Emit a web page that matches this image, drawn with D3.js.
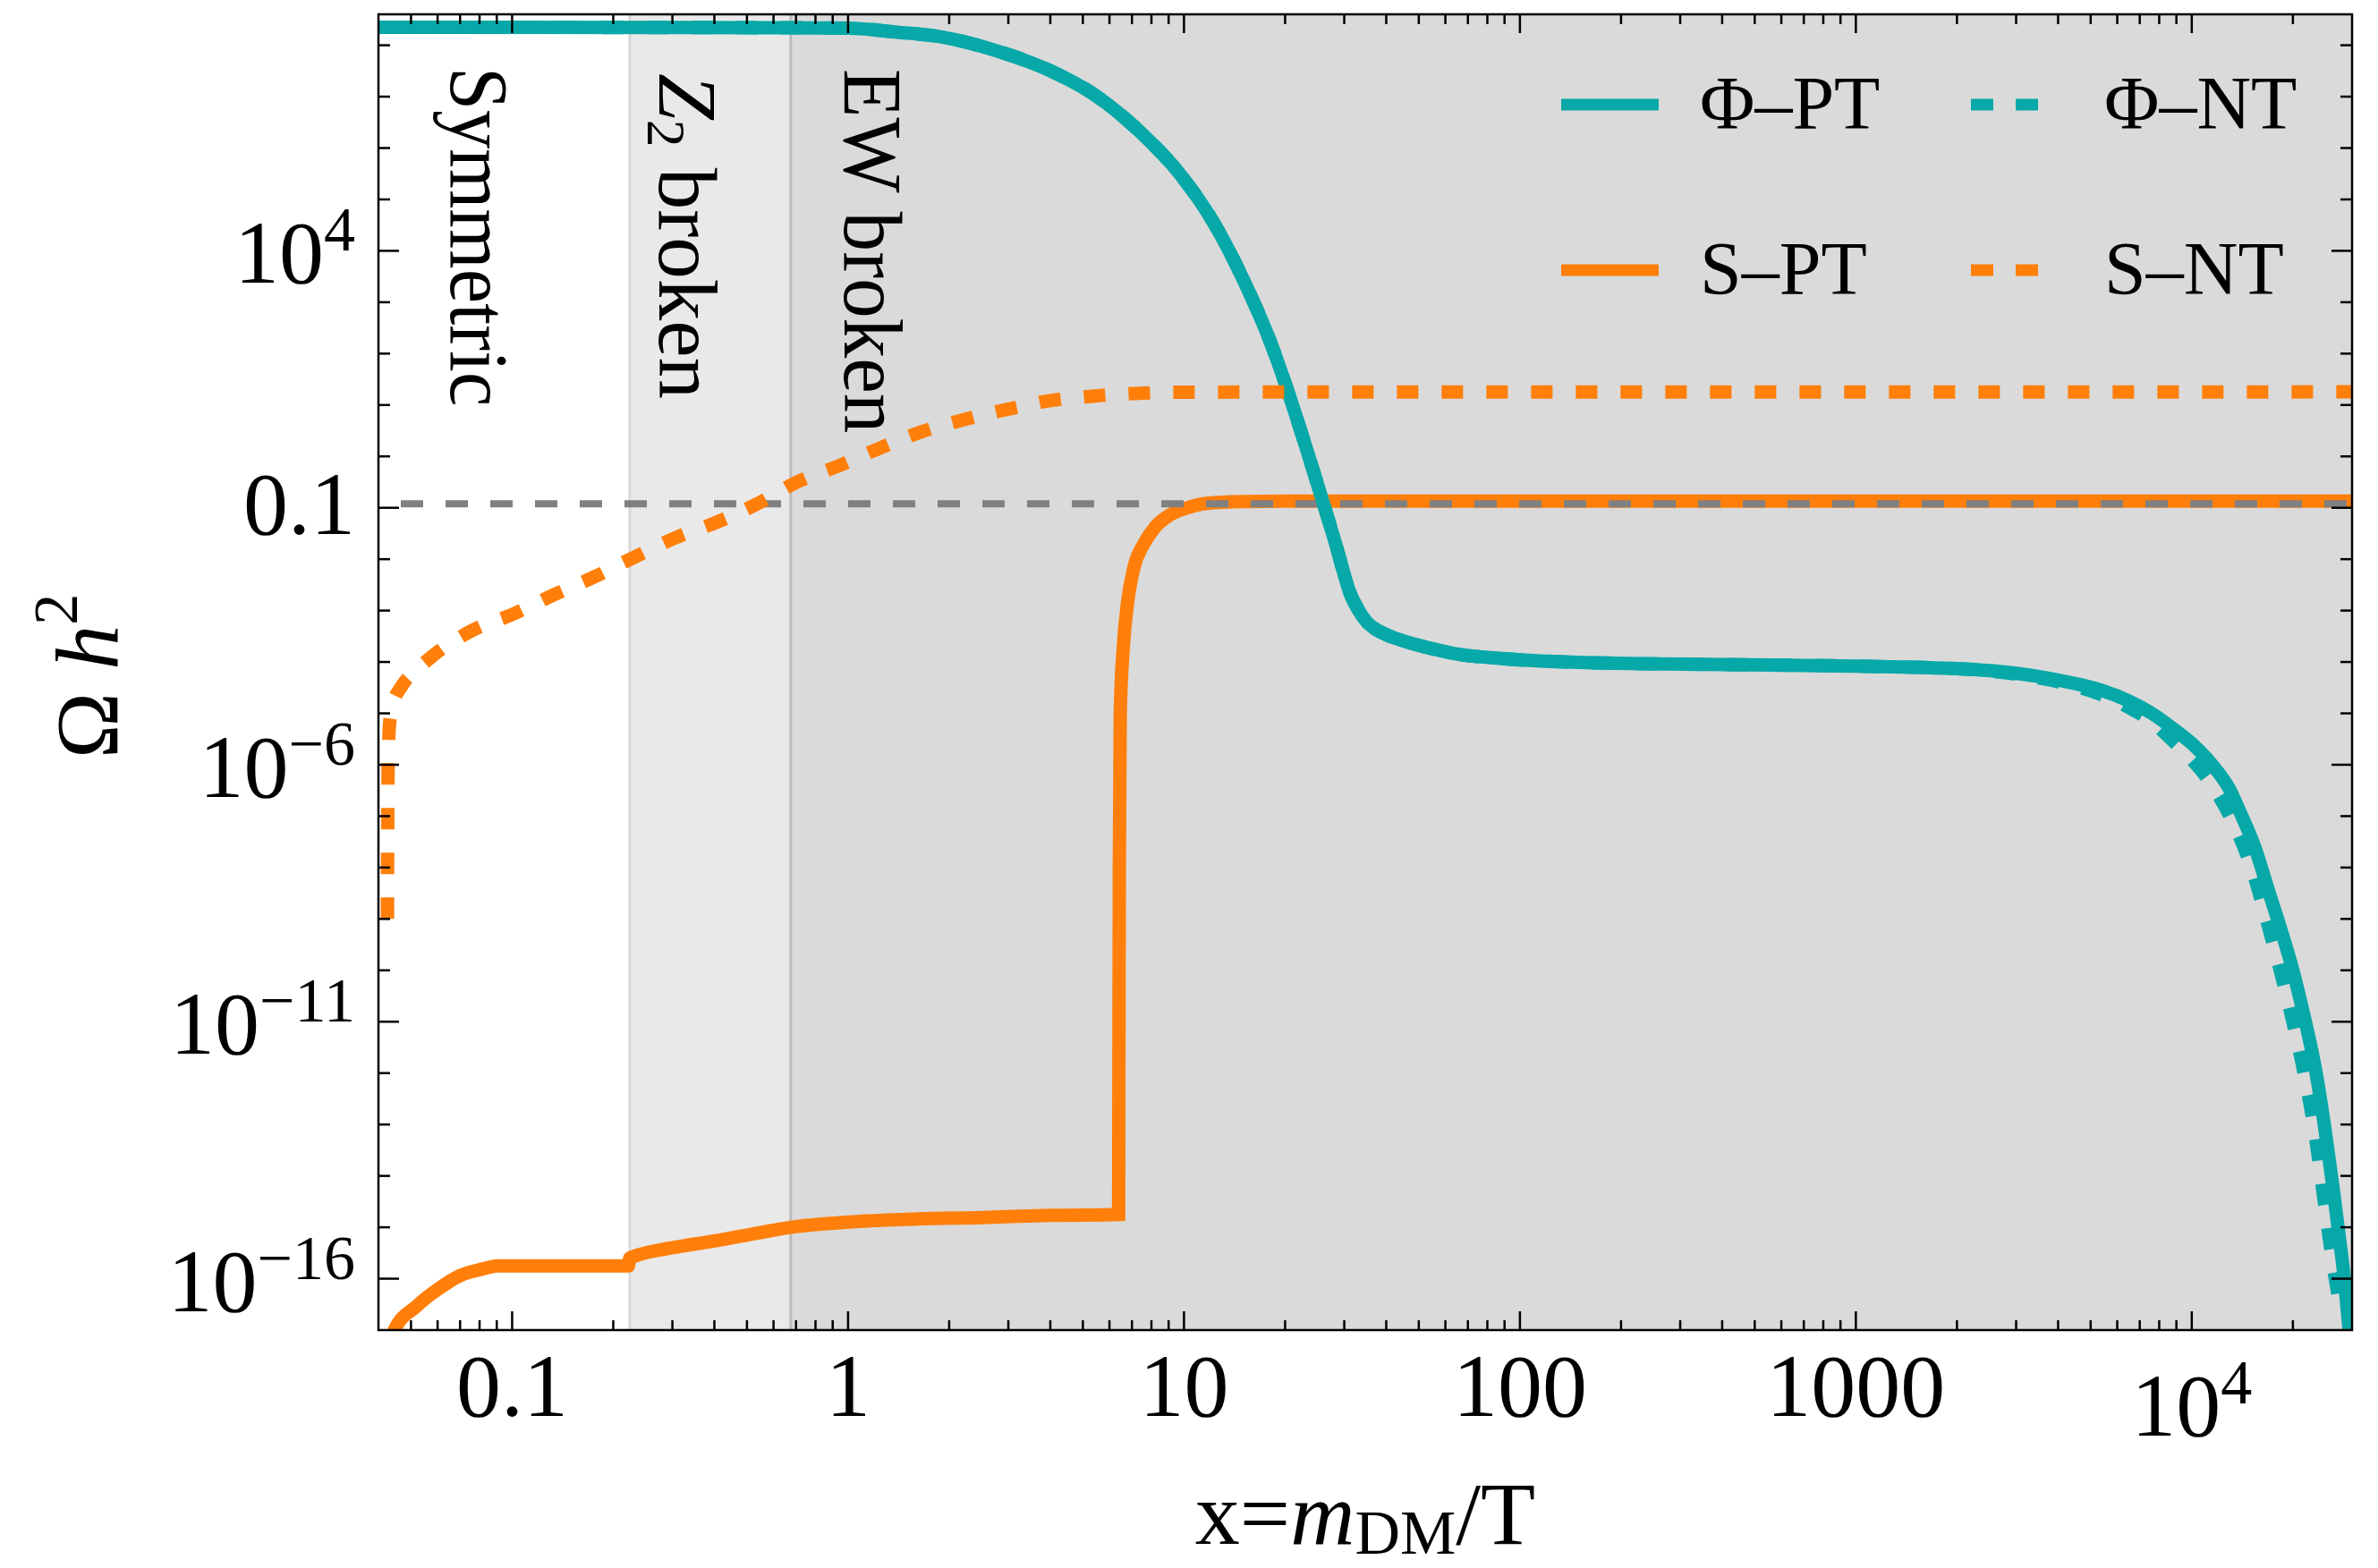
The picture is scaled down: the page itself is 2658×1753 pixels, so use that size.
<!DOCTYPE html>
<html>
<head>
<meta charset="utf-8">
<script src="https://cdn.jsdelivr.net/npm/d3@7"></script>
<style>
  html, body { margin: 0; padding: 0; background: #ffffff; }
  svg { display: block; }
  text { font-family: "Liberation Serif", "Times New Roman", Times, serif; fill: #000; }
</style>
</head>
<body>
<svg id="chart" width="2658" height="1753"></svg>
<script>
// ---- Relic abundance Omega h^2 versus x = m_DM / T ----

// Phi, phase-transition history (solid teal)
const phiPT = [
  [0.04, 2.24e8], [0.55, 2.2e8], [1.0, 2.14e8], [1.4, 1.8e8], [1.9, 1.45e8],
  [2.77, 7.8e7], [4.04, 3.1e7], [5.52, 1.0e7], [7.32, 2.2e6], [9.69, 3.2e5],
  [12.4, 3.1e4], [15.0, 2.8e3], [18.1, 166], [20.5, 16.6], [23.2, 1.35],
  [25.9, 0.132], [28.5, 0.0166], [30.0, 5.0e-3], [31.2, 2.2e-3], [33.0, 1.05e-3],
  [35.0, 6.0e-4], [37.5, 4.2e-4], [40, 3.4e-4], [44, 2.7e-4], [50, 2.1e-4],
  [55, 1.8e-4], [66, 1.4e-4], [88, 1.17e-4], [180, 9.5e-5], [400, 8.9e-5],
  [1000, 8.3e-5], [2000, 7.4e-5], [3000, 6.0e-5], [3630, 5.0e-5], [4500, 3.8e-5],
  [5400, 2.8e-5], [6500, 1.74e-5], [7600, 1.0e-5], [9000, 4.5e-6], [10200, 2.3e-6],
  [11500, 1.0e-6], [12900, 3.5e-7], [14000, 1.1e-7], [15400, 2.5e-8], [17000, 3.2e-9],
  [18000, 1.0e-9], [20000, 1.0e-10], [21600, 1.26e-11], [23300, 1.26e-12], [24800, 1.0e-13],
  [26300, 6.3e-15], [27500, 6.3e-16], [28560, 8e-17], [29400, 1e-17]
];

// Phi, no-transition history (dotted teal)
const phiNT = [
  [0.04, 2.24e8], [0.55, 2.2e8], [1.0, 2.14e8], [1.4, 1.8e8], [1.9, 1.45e8],
  [2.77, 7.8e7], [4.04, 3.1e7], [5.52, 1.0e7], [7.32, 2.2e6], [9.69, 3.2e5],
  [12.4, 3.1e4], [15.0, 2.8e3], [18.1, 166], [20.5, 16.6], [23.2, 1.35],
  [25.9, 0.132], [28.5, 0.0166], [30.0, 5.0e-3], [31.2, 2.2e-3], [33.0, 1.05e-3],
  [35.0, 6.0e-4], [37.5, 4.2e-4], [40, 3.4e-4], [44, 2.7e-4], [50, 2.1e-4],
  [55, 1.8e-4], [66, 1.4e-4], [88, 1.17e-4], [180, 9.5e-5], [400, 8.9e-5],
  [1000, 8.3e-5], [2000, 7.4e-5], [3000, 5.8e-5], [3630, 4.7e-5], [4500, 3.4e-5],
  [5400, 2.3e-5], [6500, 1.3e-5], [7600, 7.0e-6], [9000, 2.5e-6], [10200, 1.1e-6],
  [11500, 4.0e-7], [12900, 1.1e-7], [14000, 3.5e-8], [15400, 6.3e-9], [17000, 6.3e-10],
  [18000, 1.6e-10], [20000, 1.0e-11], [21600, 1.0e-12], [23300, 6.3e-14], [24800, 3.2e-15],
  [26300, 2.0e-16], [27600, 3e-17]
];

// S, phase-transition history (solid orange)
const sPT = [
  [0.0442, 3e-18], [0.0446, 1e-17], [0.0519, 2.9e-17], [0.0605, 6.4e-17], [0.0705, 1.17e-16],
  [0.080, 1.5e-16], [0.0885, 1.75e-16], [0.090, 1.78e-16], [0.222, 1.78e-16], [0.2235, 2.5e-16],
  [0.23, 2.7e-16], [0.30, 4.0e-16], [0.40, 5.4e-16], [0.52, 7.4e-16], [0.677, 1.0e-15],
  [1.0, 1.26e-15], [1.6, 1.45e-15], [2.5, 1.55e-15], [4.0, 1.7e-15], [6.39, 1.78e-15],
  [6.40, 1e-12], [6.42, 1e-8], [6.46, 1e-5], [6.6, 2e-4], [6.8, 1.5e-3],
  [7.1, 7e-3], [7.6, 0.02], [8.2, 0.042], [9.0, 0.07], [10, 0.095],
  [11.7, 0.122], [15, 0.132], [20, 0.135], [30000, 0.135]
];

// S, no-transition history (dotted orange)
const sNT = [
  [0.04255, 1e-9], [0.0427, 5e-7], [0.0431, 5.4e-6], [0.0440, 1.4e-5], [0.0468, 3.3e-5],
  [0.052, 7e-5], [0.0583, 1.35e-4], [0.0766, 4.2e-4], [0.1006, 8.5e-4], [0.1324, 2.0e-3],
  [0.174, 4.4e-3], [0.229, 0.0106], [0.309, 0.0267], [0.407, 0.0525], [0.535, 0.118],
  [0.70, 0.31], [0.94, 0.66], [1.25, 1.47], [1.65, 3.0], [2.23, 5.25],
  [3.0, 8.3], [4.04, 12.3], [5.52, 15.1], [7.55, 17.0], [10, 17.8], [30000, 18.0]
];

// Observed relic density and phase boundaries
const relicDensity = 0.12;
const z2Break = 0.224;
const ewBreak = 0.675;

// Axis ticks and labels
const xDomain = [0.04, 3e4];
const yDomain = [1e-17, 4e8];
const xMajorTicks = [0.1, 1, 10, 100, 1000, 1e4];
const xMajorLabels = [["0.1"], ["1"], ["10"], ["100"], ["1000"], ["10", "4"]];
const yMajorTicks = [1e4, 0.1, 1e-6, 1e-11, 1e-16];
const yMajorLabels = [["10", "4"], ["0.1"], ["10", "\u22126"], ["10", "\u221211"], ["10", "\u221216"]];

// Legend
const legendNames = ["\u03A6\u2013PT", "\u03A6\u2013NT", "S\u2013PT", "S\u2013NT"];

const TEAL = "#07a8a8";
const ORANGE = "#ff7f0a";
const CURVE_W = 15;

const svg = d3.select("#chart");
const M = { left: 423, right: 2629, top: 16, bottom: 1487 };

const x = d3.scaleLog().domain(xDomain).range([M.left, M.right]);
const y = d3.scaleLog().domain(yDomain).range([M.bottom, M.top]);

svg.append("rect").attr("width", 2658).attr("height", 1753).attr("fill", "#fff");

svg.append("defs").append("clipPath").attr("id", "plotclip")
  .append("rect").attr("x", M.left).attr("y", M.top)
  .attr("width", M.right - M.left).attr("height", M.bottom - M.top);

// Phase regions
svg.append("rect").attr("x", x(z2Break)).attr("y", M.top)
  .attr("width", x(ewBreak) - x(z2Break)).attr("height", M.bottom - M.top)
  .attr("fill", "#e9e9e9");
svg.append("rect").attr("x", x(ewBreak)).attr("y", M.top)
  .attr("width", M.right - x(ewBreak)).attr("height", M.bottom - M.top)
  .attr("fill", "#dadada");
svg.append("line").attr("x1", x(z2Break)).attr("x2", x(z2Break))
  .attr("y1", M.top).attr("y2", M.bottom).attr("stroke", "#d8d8d8").attr("stroke-width", 3);
svg.append("line").attr("x1", x(ewBreak)).attr("x2", x(ewBreak))
  .attr("y1", M.top).attr("y2", M.bottom).attr("stroke", "#bcbcbc").attr("stroke-width", 3);

// Region labels (vertical, reading downward)
function vlabel(px, py, parts, size, squeeze) {
  const g = svg.append("g")
    .attr("transform", `translate(${px},${py}) rotate(90) scale(${squeeze},1)`);
  const t = g.append("text").attr("x", 0).attr("y", 0).attr("font-size", size);
  parts.forEach(p => {
    const s = t.append("tspan").text(p.t);
    if (p.italic) s.attr("font-style", "italic");
    if (p.size) s.attr("font-size", p.size);
    if (p.dy) s.attr("dy", p.dy);
  });
}
vlabel(504, 75, [{ t: "Symmetric" }], 94, 0.92);
vlabel(737, 82, [{ t: "Z", italic: true }, { t: "2", size: 62, dy: 13 }, { t: " broken", dy: -13 }], 94, 0.99);
vlabel(944, 77, [{ t: "EW broken" }], 94, 0.95);

// Curves
const line = d3.line()
  .x(d => x(d[0]))
  .y(d => y(d[1]))
  .curve(d3.curveMonotoneX);

const plot = svg.append("g").attr("clip-path", "url(#plotclip)");

plot.append("path").datum(sPT).attr("d", line)
  .attr("fill", "none").attr("stroke", ORANGE).attr("stroke-width", CURVE_W)
  .attr("stroke-linejoin", "miter");

plot.append("line")
  .attr("x1", x(xDomain[0])).attr("x2", x(xDomain[1]))
  .attr("y1", y(relicDensity)).attr("y2", y(relicDensity))
  .attr("stroke", "#808080").attr("stroke-width", 8)
  .attr("stroke-dasharray", "25,25").attr("stroke-dashoffset", 25);

plot.append("path").datum(phiNT).attr("d", line)
  .attr("fill", "none").attr("stroke", TEAL).attr("stroke-width", CURVE_W)
  .attr("stroke-dasharray", "24,26");

plot.append("path").datum(phiPT).attr("d", line)
  .attr("fill", "none").attr("stroke", TEAL).attr("stroke-width", CURVE_W);

plot.append("path").datum(sNT).attr("d", line)
  .attr("fill", "none").attr("stroke", ORANGE).attr("stroke-width", CURVE_W)
  .attr("stroke-dasharray", "24,26");

// Legend
const legend = svg.append("g");
const legendRows = [117, 302];
const legendDefs = [
  { name: legendNames[0], color: TEAL, dotted: false, col: 0, row: 0 },
  { name: legendNames[1], color: TEAL, dotted: true, col: 1, row: 0 },
  { name: legendNames[2], color: ORANGE, dotted: false, col: 0, row: 1 },
  { name: legendNames[3], color: ORANGE, dotted: true, col: 1, row: 1 }
];
const legendCols = [
  { x1: 1745, x2: 1854, tx: 1900 },
  { x1: 2203, x2: 2278, tx: 2352 }
];
legendDefs.forEach(d => {
  const c = legendCols[d.col];
  const yy = legendRows[d.row];
  const l = legend.append("line").attr("x1", c.x1).attr("x2", c.x2)
    .attr("y1", yy).attr("y2", yy).attr("stroke", d.color).attr("stroke-width", 13);
  if (d.dotted) l.attr("stroke-dasharray", "25,25");
  legend.append("text").attr("x", c.tx).attr("y", yy + 27)
    .attr("font-size", 84).text(d.name);
});

// Ticks
const tickG = svg.append("g").attr("stroke", "#000").attr("stroke-width", 2.5);
const xMinor = [];
for (let e = -2; e <= 4; e++) {
  for (let m = 2; m <= 9; m++) {
    const v = m * Math.pow(10, e);
    if (v > xDomain[0] && v < xDomain[1]) xMinor.push(v);
  }
}
const yMinor = [];
for (let e = -16; e <= 8; e++) {
  const v = Math.pow(10, e);
  if (!yMajorTicks.some(t => Math.abs(Math.log10(t) - e) < 1e-9)) yMinor.push(v);
}
xMajorTicks.forEach(v => {
  tickG.append("line").attr("x1", x(v)).attr("x2", x(v)).attr("y1", M.bottom).attr("y2", M.bottom - 21);
  tickG.append("line").attr("x1", x(v)).attr("x2", x(v)).attr("y1", M.top).attr("y2", M.top + 21);
});
xMinor.forEach(v => {
  tickG.append("line").attr("x1", x(v)).attr("x2", x(v)).attr("y1", M.bottom).attr("y2", M.bottom - 11);
  tickG.append("line").attr("x1", x(v)).attr("x2", x(v)).attr("y1", M.top).attr("y2", M.top + 11);
});
yMajorTicks.forEach(v => {
  tickG.append("line").attr("x1", M.left).attr("x2", M.left + 23).attr("y1", y(v)).attr("y2", y(v));
  tickG.append("line").attr("x1", M.right).attr("x2", M.right - 23).attr("y1", y(v)).attr("y2", y(v));
});
yMinor.forEach(v => {
  tickG.append("line").attr("x1", M.left).attr("x2", M.left + 13).attr("y1", y(v)).attr("y2", y(v));
  tickG.append("line").attr("x1", M.right).attr("x2", M.right - 13).attr("y1", y(v)).attr("y2", y(v));
});

// Frame
svg.append("rect").attr("x", M.left).attr("y", M.top)
  .attr("width", M.right - M.left).attr("height", M.bottom - M.top)
  .attr("fill", "none").attr("stroke", "#000").attr("stroke-width", 2.5);

// Tick labels
function richLabel(parent, px, py, parts, anchor) {
  const t = parent.append("text").attr("x", px).attr("y", py)
    .attr("font-size", 100).attr("text-anchor", anchor);
  t.append("tspan").text(parts[0]);
  if (parts.length > 1) {
    t.append("tspan").attr("dy", -36).attr("font-size", 70).text(parts[1]);
  }
  return t;
}
xMajorTicks.forEach((v, i) => {
  const lab = xMajorLabels[i];
  richLabel(svg, x(v), lab.length > 1 ? 1605 : 1583, lab, "middle");
});
yMajorTicks.forEach((v, i) => {
  const lab = yMajorLabels[i];
  richLabel(svg, 397, y(v) + (lab.length > 1 ? 36 : 29.5), lab, "end");
});

// Axis titles
const xt = svg.append("text").attr("x", (M.left + M.right) / 2).attr("y", 1726)
  .attr("font-size", 100).attr("text-anchor", "middle");
xt.append("tspan").text("x=");
xt.append("tspan").attr("font-style", "italic").text("m");
xt.append("tspan").attr("font-size", 70).attr("dy", 11).text("DM");
xt.append("tspan").attr("dy", -11).text("/T");

const yg = svg.append("g").attr("transform", "translate(131,756) rotate(-90)");
const yt = yg.append("text").attr("x", 0).attr("y", 0)
  .attr("font-size", 100).attr("text-anchor", "middle");
yt.append("tspan").text("\u03A9 ");
yt.append("tspan").attr("font-style", "italic").text("h");
yt.append("tspan").attr("font-size", 70).attr("dy", -45).text("2");
</script>
</body>
</html>
